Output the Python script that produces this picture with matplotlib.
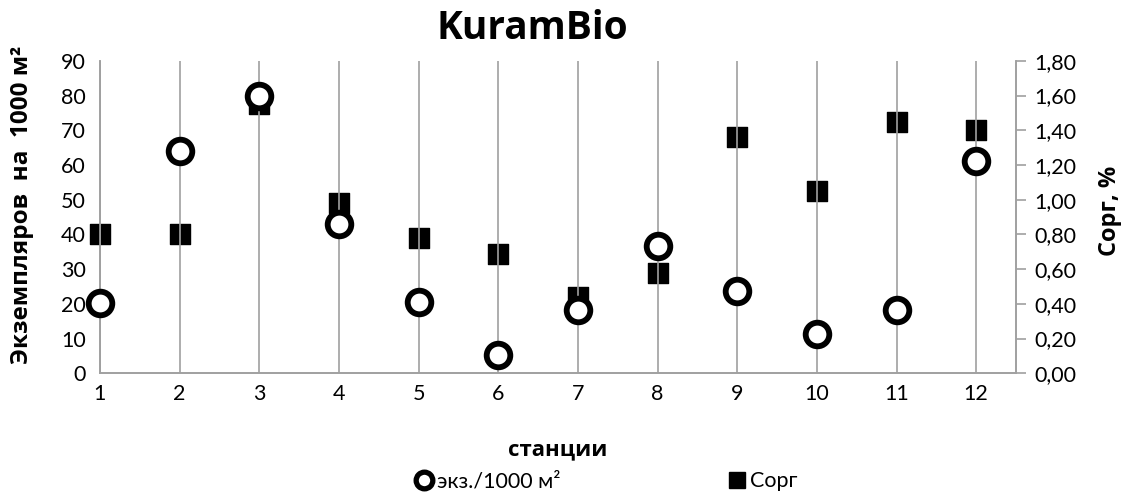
import matplotlib
matplotlib.use("Agg")
import matplotlib.pyplot as plt
from matplotlib.lines import Line2D

plt.rcParams['font.family'] = ['Lato', 'DejaVu Sans']
BOLD = ['Open Sans', 'DejaVu Sans']

stations = [1, 2, 3, 4, 5, 6, 7, 8, 9, 10, 11, 12]
ekz = [20.2, 64.1, 80.0, 43.0, 20.6, 5.3, 18.2, 36.7, 23.7, 11.2, 18.2, 61.2]
corg = [0.80, 0.80, 1.55, 0.98, 0.78, 0.69, 0.44, 0.58, 1.36, 1.05, 1.45, 1.40]
left_ticks = [0, 10, 20, 30, 40, 50, 60, 70, 80, 90]
right_ticks = [0.0, 0.2, 0.4, 0.6, 0.8, 1.0, 1.2, 1.4, 1.6, 1.8]

fig = plt.figure(figsize=(11.27, 4.99), dpi=100)
ax = fig.add_axes([0.0887, 0.252, 0.8128, 0.626])
ax2 = ax.twinx()

gray = '#A0A0A0'
ax.set_xlim(1, 12.5)
ax.set_ylim(0, 90)
ax2.set_ylim(0, 1.8)
ax.set_xticks(stations)
ax.set_xticklabels([str(s) for s in stations], fontsize=15.5)
ax.set_yticks(left_ticks)
ax.set_yticklabels([str(t) for t in left_ticks], fontsize=15.5)
ax2.set_yticks(right_ticks)
ax2.set_yticklabels([f"{t:.2f}".replace('.', ',') for t in right_ticks], fontsize=15.5)

ax.grid(axis='x', color=gray, lw=1.2)
ax.set_axisbelow(True)
for a in (ax, ax2):
    a.spines['top'].set_visible(False)
    for s in ('left', 'right', 'bottom'):
        a.spines[s].set_color(gray)
        a.spines[s].set_linewidth(1.2)
ax.tick_params(axis='x', length=0, pad=8)
ax.tick_params(axis='y', length=0, pad=10)
ax2.tick_params(axis='y', length=7, color=gray, width=1.2, pad=6)

ax2.scatter(stations, corg, marker='s', s=14**2, color='black', zorder=3, clip_on=False)
ax.scatter(stations, ekz, marker='o', s=17**2, facecolors='white', edgecolors='black',
           linewidths=4.2, zorder=4, clip_on=False)
ax.set_zorder(ax2.get_zorder() + 1)
ax.patch.set_visible(False)

ax.set_xlabel('станции', fontsize=16, fontweight='bold', family=BOLD)
ax.xaxis.set_label_coords(0.5, -0.212)
ax.set_ylabel('Экземпляров  на  1000 м²', fontsize=17.5, fontweight='bold', family=BOLD)
ax.yaxis.set_label_coords(-0.072, 0.54)
ax2.set_ylabel('Сорг, %', fontsize=17, fontweight='bold', family=BOLD)
ax2.yaxis.set_label_coords(1.09, 0.52)
fig.text(0.472, 0.942, 'KuramBio', fontsize=28, fontweight='bold', family=BOLD,
         ha='center', va='center')

handles = [Line2D([], [], marker='o', ls='none', markersize=12, markerfacecolor='white',
                  markeredgecolor='black', markeredgewidth=3.8),
           Line2D([], [], marker='s', ls='none', markersize=11, color='black')]
fig.legend(handles, ['экз./1000 м²', 'Сорг'], loc='center', bbox_to_anchor=(0.538, 0.036),
           ncol=2, frameon=False, fontsize=15.5, handlelength=0.8, handletextpad=0.2,
           columnspacing=7.8)

fig.savefig('out.png', dpi=100)
